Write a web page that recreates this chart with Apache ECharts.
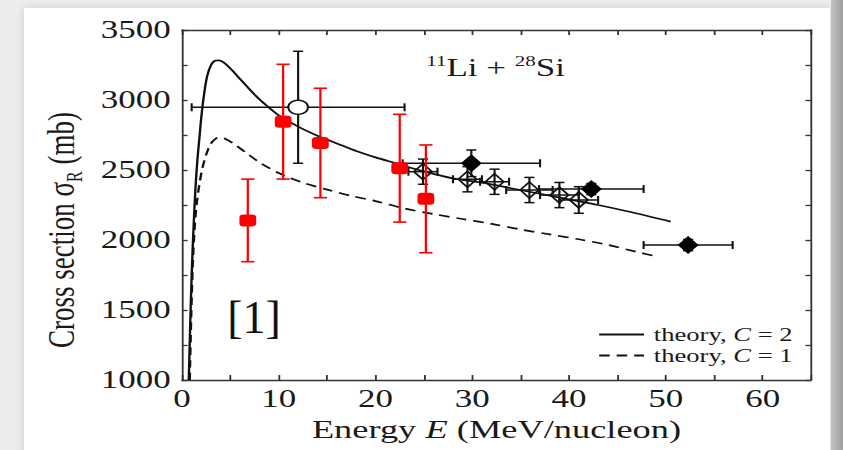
<!DOCTYPE html>
<html>
<head>
<meta charset="utf-8">
<script src="https://cdn.jsdelivr.net/npm/echarts@6/dist/echarts.min.js"></script>
<style>
  html, body { margin: 0; padding: 0; }
  body { width: 843px; height: 450px; overflow: hidden; position: relative; background: #ececec; }
  #card { position: absolute; left: 24px; top: 8px; width: 806px; height: 450px; background: #fff; box-shadow: 0 0 8px rgba(0,0,0,0.12); }
  #rbar { position: absolute; left: 831px; top: 0; width: 12px; height: 450px; background: linear-gradient(to right, #c4c4c4, #9e9e9e); }
  #chart { position: absolute; left: 0; top: 0; height: 450px; transform-origin: 0 0; }
</style>
</head>
<body>
<div id="card"></div>
<div id="rbar"></div>
<div id="chart"></div>
<script>
// ---------------- data ----------------
const theoryC2E = [0.7, 0.85, 1.0, 1.2, 1.4, 1.6, 1.8, 2.0, 2.3, 2.6, 3.0, 3.4, 3.8, 4.3, 5.0, 6.0, 7.0, 8.0, 9.0, 10.0, 12.0, 14.0, 16.0, 18.0, 20.0, 22.0, 25.0, 28.0, 31.0, 34.0, 37.0, 40.0, 43.0, 46.0, 50.5];
const theoryC2  = [1000, 1400, 1750, 2100, 2380, 2580, 2730, 2880, 3050, 3170, 3250, 3280, 3283, 3268, 3225, 3150, 3075, 3005, 2945, 2890, 2810, 2745, 2690, 2635, 2590, 2550, 2490, 2440, 2410, 2370, 2330, 2290, 2250, 2205, 2131];
const theoryC1E = [0.8, 0.95, 1.1, 1.3, 1.5, 1.8, 2.1, 2.5, 3.0, 3.5, 3.9, 4.5, 5.3, 6.7, 8.0, 10.0, 12.5, 15.0, 17.5, 20.0, 23.0, 26.0, 29.0, 32.0, 35.0, 38.0, 41.0, 44.0, 47.0, 49.1];
const theoryC1  = [1000, 1450, 1800, 2080, 2250, 2400, 2510, 2610, 2690, 2725, 2734, 2722, 2690, 2619, 2555, 2478, 2410, 2360, 2315, 2278, 2225, 2185, 2150, 2115, 2075, 2040, 2005, 1965, 1915, 1881];

const redE     = [6.8, 10.45, 14.3, 22.5, 25.2];
const redSigma = [2140, 2845, 2693, 2513, 2294];
const redErr   = [295, 410, 391, 385, 385];

const circleE     = [12.0];
const circleSigma = [2948];
const circleErr   = [400];
const circleEErr  = [11.0];

const fullDiaE     = [29.9, 42.3, 52.3];
const fullDiaSigma = [2548, 2364, 1964];
const fullDiaErr   = [95, 40, 40];
const fullDiaEErr  = [7.1, 5.4, 4.6];

const openDiaE     = [24.9, 29.5, 32.3, 35.9, 39.0, 41.0];
const openDiaSigma = [2488, 2434, 2416, 2357, 2321, 2286];
const openDiaErr   = [90, 90, 90, 90, 90, 95];
const openDiaEErr  = [1.5, 1.5, 1.5, 2.4, 2.0, 2.0];

const xTicks = [0, 10, 20, 30, 40, 50, 60];
const yTicks = [1000, 1500, 2000, 2500, 3000, 3500];

// ---------------- setup ----------------
const S = 1.4;                 // horizontal stretch of the reference figure
const W = 843 / S;
const dom = document.getElementById('chart');
dom.style.width = W + 'px';
dom.style.transform = 'scaleX(' + S + ')';

const FONT = '"Liberation Serif", "Times New Roman", serif';
const TXT = '#1a1a1a';
const AX = '#333';

const zip = (a, b) => a.map((v, i) => [v, b[i]]);
function errRows(E, s, sErr, eErr) {
  return E.map((v, i) => {
    const ex = eErr ? eErr[i] : 0;
    const ey = sErr ? sErr[i] : 0;
    return [v, s[i], v - ex, v + ex, s[i] - ey, s[i] + ey];
  });
}
function errRender(color, lw, capV, capH) {
  return function (params, api) {
    const x = api.value(0), y = api.value(1);
    const xl = api.value(2), xh = api.value(3), yl = api.value(4), yh = api.value(5);
    const st = { stroke: color, lineWidth: lw, fill: null };
    const ch = [];
    if (yh > yl) {
      const a = api.coord([x, yl]), b = api.coord([x, yh]);
      ch.push({ type: 'line', shape: { x1: a[0], y1: a[1], x2: b[0], y2: b[1] }, style: st });
      ch.push({ type: 'line', shape: { x1: a[0] - capV, y1: a[1], x2: a[0] + capV, y2: a[1] }, style: st });
      ch.push({ type: 'line', shape: { x1: b[0] - capV, y1: b[1], x2: b[0] + capV, y2: b[1] }, style: st });
    }
    if (xh > xl) {
      const a = api.coord([xl, y]), b = api.coord([xh, y]);
      ch.push({ type: 'line', shape: { x1: a[0], y1: a[1], x2: b[0], y2: b[1] }, style: st });
      ch.push({ type: 'line', shape: { x1: a[0], y1: a[1] - capH, x2: a[0], y2: a[1] + capH }, style: st });
      ch.push({ type: 'line', shape: { x1: b[0], y1: b[1] - capH, x2: b[0], y2: b[1] + capH }, style: st });
    }
    return { type: 'group', children: ch };
  };
}

const chart = echarts.init(dom, null, { renderer: 'svg', width: W, height: 450 });

const axisCommonX = {
  type: 'value', min: 0, max: 65, interval: 5,
  axisLine: { show: true, onZero: false, lineStyle: { color: AX, width: 1.3 } },
  axisTick: { show: true, inside: true, length: 5, lineStyle: { color: AX, width: 1.3 } },
  splitLine: { show: false }
};
const axisCommonY = {
  type: 'value', min: 1000, max: 3500, interval: 250,
  axisLine: { show: true, onZero: false, lineStyle: { color: AX, width: 1.3 } },
  axisTick: { show: true, inside: true, length: 4, lineStyle: { color: AX, width: 1.3 } },
  splitLine: { show: false }
};

const option = {
  animation: false,
  backgroundColor: 'transparent',
  grid: { left: 130, right: W - 579.3, top: 30, bottom: 70 },
  xAxis: [
    Object.assign({}, axisCommonX, {
      position: 'bottom',
      axisLabel: {
        margin: 6, fontFamily: FONT, fontSize: 25, color: TXT,
        formatter: v => (xTicks.indexOf(v) >= 0 ? String(v) : '')
      },
      name: 'Energy {i|E} (MeV/nucleon)',
      nameLocation: 'middle', nameGap: 36,
      nameTextStyle: {
        fontFamily: FONT, fontSize: 26, color: TXT,
        rich: { i: { fontFamily: FONT, fontSize: 26, fontStyle: 'italic', color: TXT } }
      }
    }),
    Object.assign({}, axisCommonX, { position: 'top', axisLabel: { show: false } })
  ],
  yAxis: [
    Object.assign({}, axisCommonY, {
      position: 'left',
      axisLabel: {
        margin: 8, fontFamily: FONT, fontSize: 25, color: TXT,
        formatter: v => (yTicks.indexOf(v) >= 0 ? String(v) : '')
      },
      name: 'Cross section σ{s|R} (mb)',
      nameLocation: 'middle', nameRotate: 90, nameGap: 68,
      nameTextStyle: {
        fontFamily: FONT, fontSize: 27, color: TXT, padding: [0, 50, 0, 0],
        rich: { s: { fontFamily: FONT, fontSize: 16, color: TXT, padding: [18, 0, 0, 0] } }
      }
    }),
    Object.assign({}, axisCommonY, { position: 'right', axisLabel: { show: false } })
  ],
  legend: {
    data: ['theory, C = 2', 'theory, C = 1'],
    orient: 'vertical', left: 422, top: 320,
    itemWidth: 32, itemHeight: 12, itemGap: 2,
    itemStyle: { color: 'rgba(0,0,0,0)', borderWidth: 0, opacity: 0 },
    formatter: n => n.replace('C', '{i|C}'),
    textStyle: {
      fontFamily: FONT, fontSize: 19, color: TXT, padding: [0, 0, 0, 2],
      rich: { i: { fontFamily: FONT, fontSize: 19, fontStyle: 'italic', color: TXT } }
    }
  },
  graphic: [
    {
      type: 'text', x: 354, y: 68, z: 10,
      style: {
        text: '{sup|11}{m|Li + }{sup|28}{m|Si}',
        align: 'center', verticalAlign: 'middle',
        rich: {
          m: { fontFamily: FONT, fontSize: 25, fill: TXT },
          sup: { fontFamily: FONT, fontSize: 15, fill: TXT, padding: [0, 0, 14, 0] }
        }
      }
    },
    {
      type: 'text', x: 181.4, y: 317, z: 10, scaleX: 1 / S,
      style: { text: '[1]', fontFamily: FONT, fontSize: 46, fill: '#111', align: 'center', verticalAlign: 'middle' }
    }
  ],
  series: [
    {
      name: 'theory, C = 2', type: 'line', data: zip(theoryC2E, theoryC2),
      symbol: 'none', smooth: 0.3, z: 2,
      lineStyle: { color: '#111', width: 1.7, type: 'solid' }, itemStyle: { color: '#111' }
    },
    {
      name: 'theory, C = 1', type: 'line', data: zip(theoryC1E, theoryC1),
      symbol: 'none', smooth: 0.3, z: 2,
      lineStyle: { color: '#111', width: 1.7, type: [7.5, 5] }, itemStyle: { color: '#111' }
    },
    {
      name: 'err-black', type: 'custom', z: 3,
      renderItem: errRender('#111', 1.5, 3.6, 4),
      encode: { x: [0, 2, 3], y: [1, 4, 5] },
      data: errRows(circleE, circleSigma, circleErr, circleEErr)
        .concat(errRows(fullDiaE, fullDiaSigma, fullDiaErr, fullDiaEErr))
        .concat(errRows(openDiaE, openDiaSigma, openDiaErr, openDiaEErr))
    },
    {
      name: 'open diamonds', type: 'scatter', data: zip(openDiaE, openDiaSigma), z: 4,
      symbol: 'diamond', symbolSize: [13, 16],
      itemStyle: { color: 'rgba(0,0,0,0)', borderColor: '#111', borderWidth: 1.5, opacity: 1 }
    },
    {
      name: 'filled diamonds', type: 'scatter', data: zip(fullDiaE, fullDiaSigma), z: 4,
      symbol: 'diamond', symbolSize: [15, 18],
      itemStyle: { color: '#000', opacity: 1 }
    },
    {
      name: 'open circle', type: 'scatter', data: zip(circleE, circleSigma), z: 4,
      symbol: 'circle', symbolSize: 14,
      itemStyle: { color: '#fff', borderColor: '#111', borderWidth: 1.5, opacity: 1 }
    },
    {
      name: 'err-red', type: 'custom', z: 5,
      renderItem: errRender('#ff0000', 1.6, 4.75, 4),
      encode: { x: [0, 2, 3], y: [1, 4, 5] },
      data: errRows(redE, redSigma, redErr, null)
    },
    {
      name: 'red squares', type: 'scatter', data: zip(redE, redSigma), z: 6,
      symbol: 'roundRect', symbolSize: 12,
      itemStyle: { color: '#ff0000', opacity: 1 }
    }
  ]
};
chart.setOption(option);
</script>
</body>
</html>
